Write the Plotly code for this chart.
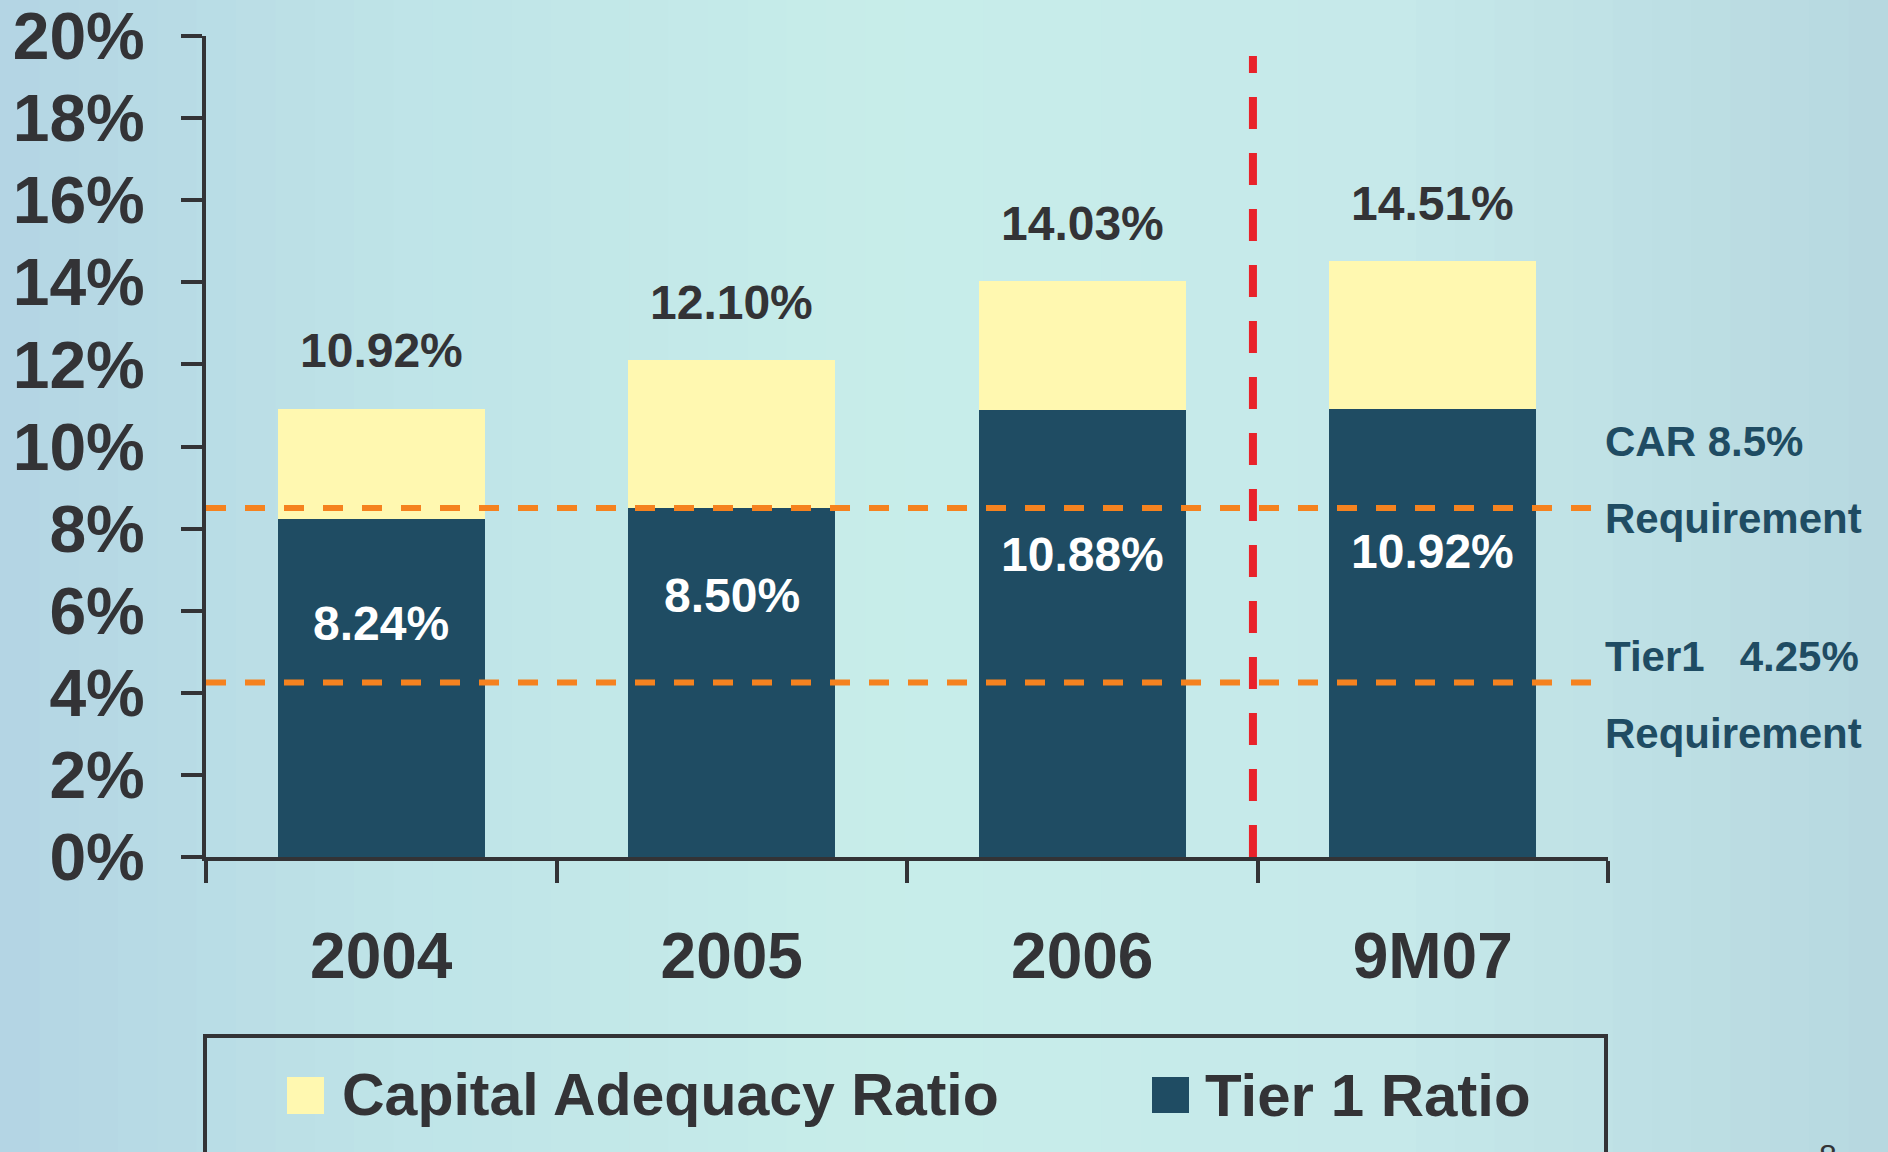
import plotly.graph_objects as go

categories = ["2004", "2005", "2006", "9M07"]
tier1_ratio = [8.24, 8.50, 10.88, 10.92]
car_total = [10.92, 12.10, 14.03, 14.51]
car_requirement = 8.5
tier1_requirement = 4.25
y_ticks = [0, 2, 4, 6, 8, 10, 12, 14, 16, 18, 20]

car_extra = [round(t - b, 2) for t, b in zip(car_total, tier1_ratio)]

W, H = 1888, 1152
L, R, T, B = 206, 280, 36, 295
PW, PH = W - L - R, H - T - B

# pixel nudges for the white in-bar labels (styling only)
inner_nudge = [0, 21, -6, -4]


def px_x(px):
    return (px - L) / PW


def px_y(py):
    return (H - B - py) / PH


DARK = "#1F4C63"
YELLOW = "#FFF8B0"
AXIS = "#333336"
FONT = "Liberation Sans, Arial, sans-serif"

fig = go.Figure()
fig.add_trace(go.Bar(x=categories, y=tier1_ratio, name="Tier 1 Ratio",
                     marker=dict(color=DARK, line=dict(width=0)), width=0.59,
                     showlegend=False, hoverinfo="skip"))
fig.add_trace(go.Bar(x=categories, y=car_extra, name="Capital Adequacy Ratio",
                     marker=dict(color=YELLOW, line=dict(width=0)), width=0.59,
                     showlegend=False, hoverinfo="skip"))

shapes = []
# background gradient strips
stops = [(0, (0xB4, 0xD5, 0xE4)), (400, (0xBF, 0xE4, 0xE8)), (900, (0xC8, 0xEE, 0xEA)),
         (1400, (0xC6, 0xE9, 0xEA)), (1888, (0xB7, 0xD8, 0xE0))]
n = 48
for i in range(n):
    x0 = W * i / n
    x1 = W * (i + 1) / n + 1
    xm = (x0 + x1) / 2
    for j in range(len(stops) - 1):
        if stops[j][0] <= xm <= stops[j + 1][0]:
            f = (xm - stops[j][0]) / (stops[j + 1][0] - stops[j][0])
            c = [int(stops[j][1][k] + f * (stops[j + 1][1][k] - stops[j][1][k])) for k in range(3)]
            break
    shapes.append(dict(type="rect", xref="paper", yref="paper", layer="below",
                       x0=px_x(x0), x1=px_x(x1), y0=px_y(H + 5), y1=px_y(-5),
                       line=dict(width=0), fillcolor="rgb(%d,%d,%d)" % tuple(c)))

# requirement lines
for v in (car_requirement, tier1_requirement):
    shapes.append(dict(type="line", xref="paper", yref="y", x0=0, x1=px_x(1600), y0=v, y1=v,
                       line=dict(color="#F5821F", width=6, dash="20px,19px"), layer="above"))
# red divider
shapes.append(dict(type="line", xref="x", yref="y", x0=2.487, x1=2.487, y0=0, y1=(H - B - 56) / PH * 20,
                   line=dict(color="#E8222A", width=8, dash="32px,24px"), layer="above"))
# legend box
shapes.append(dict(type="rect", xref="paper", yref="paper", x0=px_x(205), x1=px_x(1606),
                   y0=px_y(1200), y1=px_y(1036), line=dict(color=AXIS, width=4),
                   fillcolor="rgba(0,0,0,0)"))
# legend swatches
shapes.append(dict(type="rect", xref="paper", yref="paper", x0=px_x(287), x1=px_x(324),
                   y0=px_y(1114), y1=px_y(1077), line=dict(width=0), fillcolor=YELLOW))
shapes.append(dict(type="rect", xref="paper", yref="paper", x0=px_x(1152), x1=px_x(1189),
                   y0=px_y(1113), y1=px_y(1077), line=dict(width=0), fillcolor=DARK))

annotations = []
for i, t in enumerate(car_total):
    annotations.append(dict(x=i, y=t, xref="x", yref="y", text="%.2f%%" % t, showarrow=False,
                            yanchor="middle", yshift=58,
                            font=dict(family=FONT, size=48, color=AXIS, weight="bold")))
for i, v in enumerate(tier1_ratio):
    annotations.append(dict(x=i, y=v * 0.69, xref="x", yref="y", text="%.2f%%" % v, showarrow=False,
                            yanchor="middle", yshift=inner_nudge[i],
                            font=dict(family=FONT, size=48, color="white", weight="bold")))

side = [("CAR 8.5%", car_requirement, 67), ("Requirement", car_requirement, -10),
        ("Tier1&nbsp;&nbsp; 4.25%", tier1_requirement, 26), ("Requirement", tier1_requirement, -51)]
for txt, v, sh in side:
    annotations.append(dict(x=1.0, y=v, xref="paper", yref="y", text=txt, showarrow=False,
                            xanchor="left", yanchor="middle", yshift=sh, xshift=-5,
                            font=dict(family=FONT, size=42, color=DARK, weight="bold")))

annotations.append(dict(x=px_x(340), y=px_y(1095), xref="paper", yref="paper",
                        text="Capital Adequacy Ratio", showarrow=False, xanchor="left", yanchor="middle",
                        font=dict(family=FONT, size=59, color=AXIS, weight="bold")))
annotations.append(dict(x=px_x(1203), y=px_y(1095), xref="paper", yref="paper",
                        text="Tier 1 Ratio", showarrow=False, xanchor="left", yanchor="middle",
                        font=dict(family=FONT, size=60, color=AXIS, weight="bold")))
annotations.append(dict(x=px_x(1828), y=px_y(1136), xref="paper", yref="paper",
                        text="8", showarrow=False, xanchor="center", yanchor="top",
                        font=dict(family=FONT, size=32, color=AXIS)))

fig.update_layout(
    width=W, height=H, autosize=False,
    margin=dict(l=L, r=R, t=T, b=B, pad=0, autoexpand=False),
    paper_bgcolor="#C2E4E8", plot_bgcolor="rgba(0,0,0,0)",
    barmode="stack", bargap=0.41,
    shapes=shapes, annotations=annotations, showlegend=False,
    xaxis=dict(type="category", range=[-0.5, 3.5], tickson="boundaries", ticks="outside",
               ticklen=22, tickwidth=4, tickcolor=AXIS, showline=True, linewidth=4, linecolor=AXIS,
               showgrid=False, zeroline=False, ticklabelstandoff=40, automargin=False,
               ticklabeloverflow="allow", fixedrange=True,
               tickfont=dict(family=FONT, size=64, color=AXIS, weight="bold")),
    yaxis=dict(range=[0, 20], tickvals=y_ticks, ticktext=["%d%%" % v for v in y_ticks],
               ticks="outside", ticklen=21, tickwidth=4, tickcolor=AXIS, showline=True, linewidth=4,
               linecolor=AXIS, showgrid=False, zeroline=False, ticklabelstandoff=23, automargin=False,
               ticklabeloverflow="allow", fixedrange=True,
               tickfont=dict(family=FONT, size=66, color=AXIS, weight="bold")),
)

fig.write_html("out.html", config={"displayModeBar": False},
               post_script="document.body.style.margin='0';document.body.style.overflow='hidden';")
